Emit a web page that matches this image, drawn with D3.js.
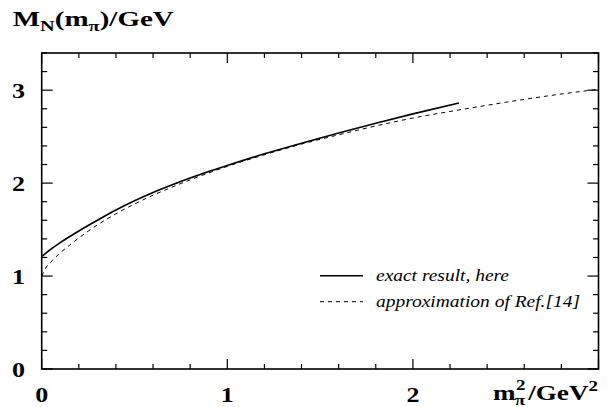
<!DOCTYPE html>
<html><head><meta charset="utf-8">
<script src="https://cdn.jsdelivr.net/npm/d3@7"></script>
<style>body{margin:0;background:#fff}svg{display:block}text{font-family:"Liberation Serif","Tinos","Times New Roman","Times","Nimbus Roman","FreeSerif","Noto Serif","DejaVu Serif",serif}</style>
</head><body>
<svg id="c" width="612" height="407"></svg>
<script>
// Data: x = m_pi^2 / GeV^2, y = M_N / GeV
const exactX = [0, 0.05, 0.1, 0.2, 0.3, 0.4, 0.5, 0.6, 0.7, 0.8, 0.9, 1.0, 1.2, 1.4, 1.6, 1.8, 2.0, 2.248];
const exactY = [1.21, 1.29, 1.36, 1.485, 1.60, 1.71, 1.81, 1.90, 1.98, 2.055, 2.125, 2.19, 2.315, 2.43, 2.54, 2.645, 2.745, 2.862];
const approxX = [0, 0.02, 0.059, 0.1, 0.149, 0.2, 0.3, 0.4, 0.5, 0.6, 0.7, 0.8, 0.9, 1.0, 1.2, 1.4, 1.6, 1.8, 2.0, 2.287, 2.5, 2.75, 3.0];
const approxY = [1.0, 1.08, 1.17, 1.25, 1.33, 1.41, 1.55, 1.67, 1.775, 1.87, 1.955, 2.035, 2.11, 2.18, 2.305, 2.42, 2.52, 2.615, 2.70, 2.80, 2.87, 2.945, 3.01];
const xMajor = [0, 1, 2];
const yMajor = [0, 1, 2, 3];
const legendLabels = ["exact result, here", "approximation of Ref.[14]"];
const legendWidths = [133, 204];

const svg = d3.select("#c");
const L = 41.7, R = 598.5, T = 53, B = 369;
const x = d3.scaleLinear().domain([0, 3]).range([L, R]);
const y = d3.scaleLinear().domain([0, 3.4]).range([B, T]);

// horizontally stretch a text group so that its ink box has the given width
function fit(gSel, left, base, width) {
  const bb = gSel.node().getBBox();
  const s = width / bb.width;
  gSel.attr("transform", `translate(${left - bb.x * s},${base}) scale(${s},1)`);
}

// frame
svg.append("rect").attr("x", L).attr("y", T).attr("width", R - L).attr("height", B - T)
  .attr("fill", "none").attr("stroke", "#000").attr("stroke-width", 1.6);

const xMinor = d3.range(0, 3.0001, 0.2);
const yMinor = d3.range(0, 3.4001, 0.2);
const isMaj = v => Math.abs(v - Math.round(v)) < 1e-6;

const g = svg.append("g").attr("stroke", "#000").attr("stroke-width", 1.2);
xMinor.forEach(v => {
  const len = isMaj(v) ? 10 : 5;
  g.append("line").attr("x1", x(v)).attr("x2", x(v)).attr("y1", B).attr("y2", B - len);
  g.append("line").attr("x1", x(v)).attr("x2", x(v)).attr("y1", T).attr("y2", T + len);
});
yMinor.forEach(v => {
  const len = isMaj(v) ? 11 : 5.5;
  g.append("line").attr("y1", y(v)).attr("y2", y(v)).attr("x1", L).attr("x2", L + len);
  g.append("line").attr("y1", y(v)).attr("y2", y(v)).attr("x1", R).attr("x2", R - len);
});

// tick labels (digits ~13px wide, 15.6px tall in the reference)
xMajor.forEach(d => {
  const gg = svg.append("g");
  gg.append("text").attr("font-weight", "bold").attr("font-size", 22).text(d);
  fit(gg, x(d) - 6.5, 402, 13);
});
yMajor.forEach(d => {
  const gg = svg.append("g");
  gg.append("text").attr("font-weight", "bold").attr("font-size", 22).text(d);
  fit(gg, 12, y(d) + 8, 13);
});

// title
const tg = svg.append("g");
const t = tg.append("text").attr("font-weight", "bold").attr("font-size", 20);
t.append("tspan").text("M");
t.append("tspan").attr("font-size", 14).attr("dy", 5).text("N");
t.append("tspan").attr("dy", -5).text("(m");
t.append("tspan").attr("font-size", 14).attr("dy", 5).text("π");
t.append("tspan").attr("dy", -5).text(")/GeV");
fit(tg, 12.7, 26, 162);

// x axis label
const xg = svg.append("g");
const xl = xg.append("text").attr("font-weight", "bold").attr("font-size", 20);
xl.append("tspan").attr("x", 0).text("m");
xl.append("tspan").attr("x", 17).attr("dy", -10).attr("font-size", 14).text("2");
xl.append("tspan").attr("x", 16).attr("dy", 15).attr("font-size", 14).text("π");
xl.append("tspan").attr("x", 26).attr("dy", -5).text("/GeV");
xl.append("tspan").attr("dy", -9).attr("font-size", 14).text("2");
fit(xg, 493, 400, 105);

// curves
const line = d3.line().x(d => x(d[0])).y(d => y(d[1])).curve(d3.curveMonotoneX);
svg.append("path").datum(approxX.map((v, i) => [v, approxY[i]]))
  .attr("d", line).attr("fill", "none").attr("stroke", "#000").attr("stroke-width", 1)
  .attr("stroke-dasharray", "4,4");
svg.append("path").datum(exactX.map((v, i) => [v, exactY[i]]))
  .attr("d", line).attr("fill", "none").attr("stroke", "#000").attr("stroke-width", 1.6);

// legend
const lg = svg.append("g");
lg.append("line").attr("x1", 320).attr("x2", 363).attr("y1", 275.7).attr("y2", 275.7)
  .attr("stroke", "#000").attr("stroke-width", 1.6);
lg.append("line").attr("x1", 320).attr("x2", 363).attr("y1", 301.7).attr("y2", 301.7)
  .attr("stroke", "#000").attr("stroke-width", 1).attr("stroke-dasharray", "4,4");
lg.selectAll("text").data(legendLabels).enter().append("text")
  .attr("x", 376).attr("y", (d, i) => 281 + i * 26)
  .attr("font-style", "italic").attr("font-size", 16)
  .attr("textLength", (d, i) => legendWidths[i]).attr("lengthAdjust", "spacingAndGlyphs")
  .text(d => d);
</script>
</body></html>
